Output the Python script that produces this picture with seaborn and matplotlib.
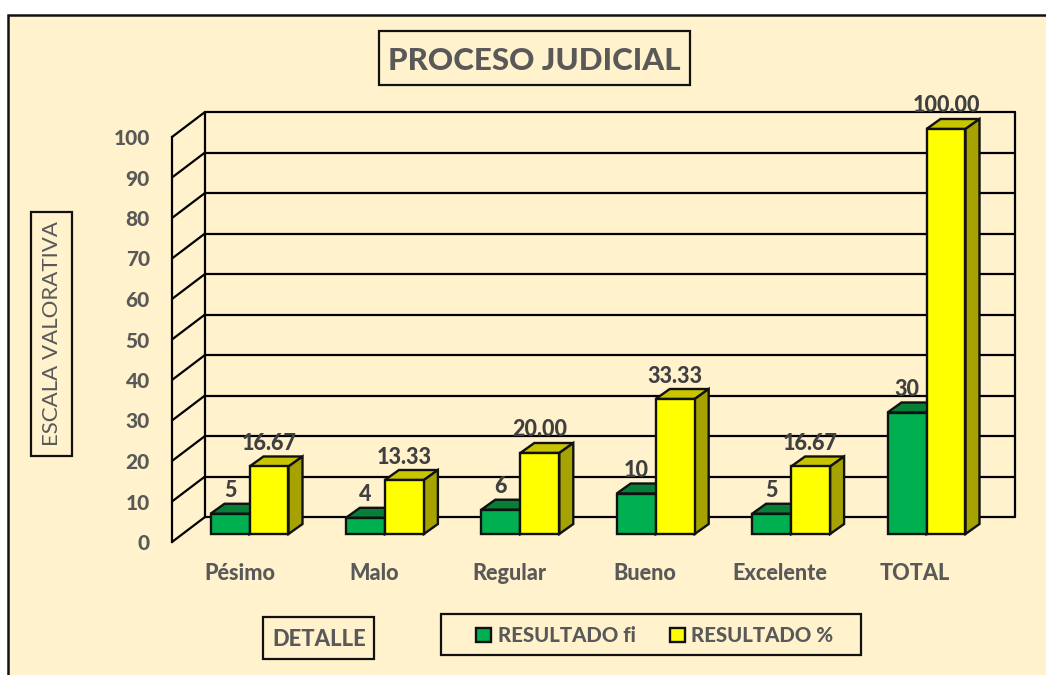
import matplotlib
matplotlib.use("Agg")
import matplotlib.pyplot as plt
from matplotlib.patches import Rectangle, Polygon
import pandas as pd
import seaborn as sns

categories = ["Pésimo", "Malo", "Regular", "Bueno", "Excelente", "TOTAL"]
resultado_fi = [5, 4, 6, 10, 5, 30]
resultado_pct = [16.67, 13.33, 20.00, 33.33, 16.67, 100.00]
series_names = ["RESULTADO fi", "RESULTADO %"]
y_ticks = [0, 10, 20, 30, 40, 50, 60, 70, 80, 90, 100]

W, H = 1046, 675
CREAM = "#FFF2CC"
TXT = "#595959"
LBL = "#404040"
GREEN, GREEN_D = "#00B050", "#087F38"
YELLOW, YELLOW_T, YELLOW_S = "#FFFF00", "#C8C400", "#A6A200"
HEAVY = 900

sns.set_theme(style="white")
plt.rcParams["font.family"] = ["Lato", "DejaVu Sans"]

fig = plt.figure(figsize=(W / 100, H / 100), dpi=100, facecolor="white")


def axes_rect(x0, y0, x1, y1):
    return [x0 / W, 1 - y1 / H, (x1 - x0) / W, (y1 - y0) / H]


def box(x0, y0, x1, y1, fc="none", lw=1.6, z=1):
    r = Rectangle((x0 / W, 1 - y1 / H), (x1 - x0) / W, (y1 - y0) / H, transform=fig.transFigure,
                  facecolor=fc, edgecolor="#111111", linewidth=lw, zorder=z)
    fig.add_artist(r)


# chart area: outline on left and top only reaches the picture edges
box(7.5, 14.5, W + 10, H + 10, fc=CREAM, lw=1.8, z=-5)

# front plane of the walls: carries the axes, ticks and titles
FX0, FX1, FY0, FY1 = 172, 982, 542, 137
ax_wall = fig.add_axes(axes_rect(FX0, FY1, FX1, FY0), facecolor="none")
ax_wall.set_xlim(-0.5, 5.5)
ax_wall.set_ylim(0, 100)
ax_wall.set_xticks(range(len(categories)))
ax_wall.set_xticklabels(categories, fontsize=15.6, fontweight=HEAVY, color=TXT)
ax_wall.set_yticks(y_ticks)
ax_wall.set_yticklabels([str(v) for v in y_ticks], fontsize=15, fontweight=HEAVY, color=TXT)
ax_wall.tick_params(axis="x", length=0, pad=15)
ax_wall.tick_params(axis="y", length=0, pad=16)
for s in ["top", "right", "bottom"]:
    ax_wall.spines[s].set_visible(False)
ax_wall.spines["left"].set_color("black")
ax_wall.spines["left"].set_linewidth(1.6)

ax_w, ax_h = FX1 - FX0, FY0 - FY1
sx, sy = 6 / ax_w, 100 / ax_h   # data units per pixel
wdx, wdy = 33 * sx, 25 * sy     # wall depth
for v in y_ticks:
    ax_wall.plot([-0.5, -0.5 + wdx], [v, v + wdy], color="black", lw=1.6, clip_on=False, zorder=1)
    ax_wall.plot([-0.5 + wdx, 5.5 + wdx], [v + wdy, v + wdy], color="black", lw=1.6, clip_on=False, zorder=1)
ax_wall.plot([-0.5 + wdx, -0.5 + wdx], [wdy, 100 + wdy], color="black", lw=1.6, clip_on=False, zorder=1)
ax_wall.plot([5.5 + wdx, 5.5 + wdx], [wdy, 100 + wdy], color="black", lw=1.6, clip_on=False, zorder=1)

ax_wall.set_title("PROCESO JUDICIAL", fontsize=22.5, fontweight=HEAVY, color=TXT, va="center", pad=0,
                  x=(534.5 - FX0) / ax_w, y=(FY0 - 60.5) / ax_h)
ax_wall.set_xlabel("DETALLE", fontsize=15.8, fontweight=HEAVY, color=TXT, va="center", ha="center")
ax_wall.xaxis.set_label_coords((319 - FX0) / ax_w, (FY0 - 640) / ax_h)
ax_wall.set_ylabel("ESCALA VALORATIVA", fontsize=16, color=TXT, va="center", ha="center")
ax_wall.yaxis.set_label_coords((52 - FX0) / ax_w, (FY0 - 334) / ax_h)

box(379, 31, 690, 85)
box(263, 617, 374, 659)
box(31, 212, 72, 456)
box(441, 614, 861, 655)

# bars stand midway between the front plane and the back wall
df = pd.DataFrame({
    "Detalle": categories * 2,
    "Valor": resultado_fi + resultado_pct,
    "Serie": [series_names[0]] * len(categories) + [series_names[1]] * len(categories),
})
ax_bar = fig.add_axes(axes_rect(181.8, 129, 994.2, 534), facecolor="none")
sns.barplot(data=df, x="Detalle", y="Valor", hue="Serie", palette=[GREEN, YELLOW], width=0.576, gap=0,
            saturation=1, edgecolor="#111111", linewidth=1.7, ax=ax_bar, legend=False, zorder=3)
ax_bar.set_xlim(-0.5, 5.5)
ax_bar.set_ylim(0, 100)
ax_bar.axis("off")

bsx, bsy = 6 / 812.4, 100 / 405
bdx, bdy = 14 * bsx, 10 * bsy
for cont, top_c, side_c, vals, fmt in [
    (ax_bar.containers[0], GREEN_D, GREEN_D, resultado_fi, "{:d}"),
    (ax_bar.containers[1], YELLOW_T, YELLOW_S, resultado_pct, "{:.2f}"),
]:
    for patch, val in zip(cont.patches, vals):
        x, w, h = patch.get_x(), patch.get_width(), patch.get_height()
        ax_bar.add_patch(Polygon([(x, h), (x + w, h), (x + w + bdx, h + bdy), (x + bdx, h + bdy)],
                                 facecolor=top_c, edgecolor="#111111", lw=1.7, clip_on=False, zorder=2))
        ax_bar.add_patch(Polygon([(x + w, 0), (x + w + bdx, bdy), (x + w + bdx, h + bdy), (x + w, h)],
                                 facecolor=side_c, edgecolor="#111111", lw=1.7, clip_on=False, zorder=2))
        patch.set_clip_on(False)
        ax_bar.annotate(fmt.format(val), (x + w / 2, h), xytext=(0, 18), textcoords="offset points",
                        ha="center", va="center_baseline", fontsize=15.5, fontweight=HEAVY, color=LBL,
                        annotation_clip=False, zorder=4)

handles = [Rectangle((0, 0), 1, 1, facecolor=c, edgecolor="#111111", linewidth=1.7) for c in (GREEN, YELLOW)]
fig.legend(handles, series_names, loc="center", bbox_to_anchor=(655 / W, 1 - 635.5 / H), ncol=2, frameon=False,
           prop={"size": 14.7, "weight": HEAVY}, labelcolor=TXT, handlelength=0.72, handleheight=0.72,
           handletextpad=0.32, columnspacing=1.7, borderpad=0)

fig.savefig("out.png", dpi=100, facecolor="white")
